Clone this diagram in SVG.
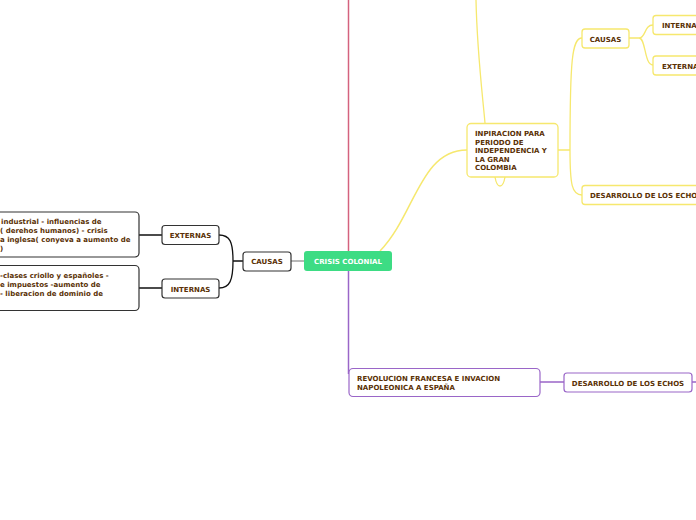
<svg xmlns="http://www.w3.org/2000/svg" width="696" height="520" viewBox="0 0 696 520">
<style>
text{font-family:"DejaVu Sans",Verdana,sans-serif;font-weight:bold;font-size:7px;fill:#5a3105}
.dk{fill:#fff;stroke:#333;stroke-width:1.2}
.yl{fill:#fff;stroke:#f6e86e;stroke-width:1.3}
.pu{fill:#fff;stroke:#9a66c8;stroke-width:1.2}
.c{fill:none}
</style>
<rect width="696" height="520" fill="#fff"/>
<g id="connectors" class="c">
<path d="M348.5,0 L348.5,251" stroke="#d4627e" stroke-width="1.5" fill="none"/>
<path d="M348.5,271 L348.5,374" stroke="#9a66c8" stroke-width="1.5" fill="none"/>
<path d="M291,261 L304,261" stroke="#888" stroke-width="1.2" fill="none"/>
<path d="M243,261 L233,261 C233,242 230,235 219,235 M233,261 C233,280 230,288 219,288" stroke="#111" stroke-width="1.3" fill="none"/>
<path d="M162,235 L139,235 M162,288 L139,288" stroke="#111" stroke-width="1.3" fill="none"/>
<path d="M380,251 C415,215 420,150 467,150" stroke="#f6e86e" stroke-width="1.5" fill="none"/>
<path d="M476,0 C477,50 482,90 485,123" stroke="#f6e86e" stroke-width="1.3" fill="none"/>
<path d="M495,177 C497,189 503,189 505,177" stroke="#f6e86e" stroke-width="1.3" fill="none"/>
<path d="M558,150 L570,150 C570,60 572,38 582,38 M570,150 C570,185 572,195 582,195" stroke="#f6e86e" stroke-width="1.3" fill="none"/>
<path d="M629,38 L639,38 C646,38 644,25 653,25 M639,38 C646,38 644,65 653,65" stroke="#f6e86e" stroke-width="1.3" fill="none"/>
<path d="M540,382 L564,382 M692,382 L696,382" stroke="#9a66c8" stroke-width="1.3" fill="none"/>
</g>
<g id="crisis">
<rect x="304" y="251" width="88" height="20" rx="3" fill="#3ddc84"/>
<text x="348" y="264" text-anchor="middle" style="fill:#fff">CRISIS COLONIAL</text>
</g>
<g id="causas-left">
<rect class="dk" x="243" y="252" width="48" height="19" rx="3"/>
<text x="267" y="264" text-anchor="middle">CAUSAS</text>
</g>
<g id="externas-left">
<rect class="dk" x="162" y="225.5" width="57" height="19" rx="3"/>
<text x="190.5" y="238" text-anchor="middle">EXTERNAS</text>
</g>
<g id="internas-left">
<rect class="dk" x="162" y="279" width="57" height="19" rx="3"/>
<text x="190.5" y="291.5" text-anchor="middle">INTERNAS</text>
</g>
<g id="externas-text">
<rect class="dk" x="-10" y="212" width="149" height="45" rx="4"/>
<text x="1" y="224">industrial - influencias de</text>
<text x="0" y="233">( derehos humanos) - crisis</text>
<text x="0" y="242">a inglesa( conyeva a aumento de</text>
<text x="0" y="251">)</text>
</g>
<g id="internas-text">
<rect class="dk" x="-10" y="265.5" width="149" height="45" rx="4"/>
<text x="0" y="278">-clases criollo y españoles -</text>
<text x="0" y="287">e impuestos -aumento de</text>
<text x="0" y="296">- liberacion de dominio de</text>
</g>
<g id="inpiracion">
<rect class="yl" x="467" y="123.5" width="91" height="53.5" rx="4"/>
<text x="475" y="136">INPIRACION PARA</text>
<text x="475" y="144.5">PERIODO DE</text>
<text x="475" y="153">INDEPENDENCIA Y</text>
<text x="475" y="161.5">LA GRAN</text>
<text x="475" y="170">COLOMBIA</text>
</g>
<g id="causas-right">
<rect class="yl" x="582" y="29" width="47" height="19" rx="3"/>
<text x="605.5" y="41.5" text-anchor="middle">CAUSAS</text>
</g>
<g id="internas-right">
<rect class="yl" x="653" y="15.5" width="60" height="19" rx="3"/>
<text x="662" y="28">INTERNAS</text>
</g>
<g id="externas-right">
<rect class="yl" x="653" y="56" width="60" height="19" rx="3"/>
<text x="662" y="68.5">EXTERNAS</text>
</g>
<g id="desarrollo-yellow">
<rect class="yl" x="582" y="185.5" width="130" height="19" rx="3"/>
<text x="590" y="198">DESARROLLO DE LOS ECHOS</text>
</g>
<g id="revolucion">
<rect class="pu" x="349" y="368.5" width="191" height="28" rx="4"/>
<text x="357" y="381">REVOLUCION FRANCESA E INVACION</text>
<text x="357" y="389.5">NAPOLEONICA A ESPAÑA</text>
</g>
<g id="desarrollo-purple">
<rect class="pu" x="564" y="373" width="128" height="19" rx="3"/>
<text x="628" y="385.5" text-anchor="middle">DESARROLLO DE LOS ECHOS</text>
</g>
</svg>
